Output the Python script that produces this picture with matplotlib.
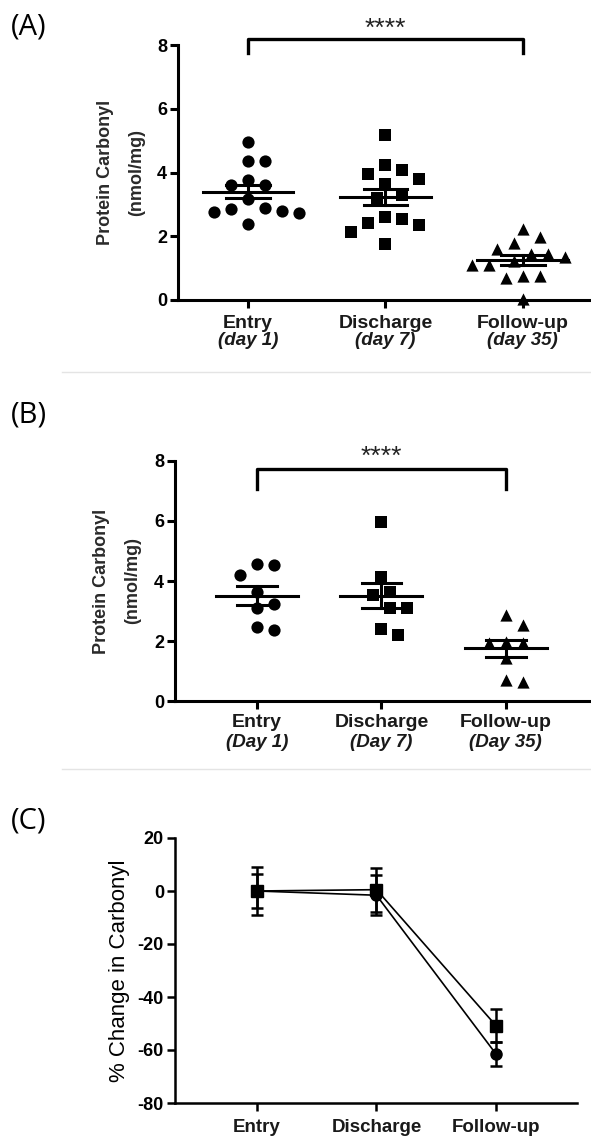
import numpy as np
import matplotlib.pyplot as plt
from matplotlib.lines import Line2D

plt.rcParams['font.family'] = ['Liberation Sans', 'DejaVu Sans']
plt.rcParams['axes.unicode_minus'] = False

# ==============================
# data
# ==============================
groups = ['Entry', 'Discharge', 'Follow-up']
days_a = ['(day 1)', '(day 7)', '(day 35)']
days_b = ['(Day 1)', '(Day 7)', '(Day 35)']

# panel A - protein carbonyl (nmol/mg)
a_entry = [4.95, 4.35, 4.35, 3.77, 3.62, 3.62, 3.18, 2.84, 2.88, 2.39, 2.72, 2.75, 2.8]
a_discharge = [5.18, 4.25, 3.8, 3.94, 4.09, 3.65, 3.28, 3.2, 2.6, 2.36, 2.55, 2.43, 2.14, 1.75]
a_followup = [1.98, 2.22, 1.79, 1.43, 1.09, 1.61, 1.22, 1.35, 0.75, 0.68, 0.75, 0.02, 1.45, 1.11]

# panel B - protein carbonyl (nmol/mg)
b_entry = [4.53, 4.56, 4.2, 3.64, 3.09, 3.23, 2.37, 2.46]
b_discharge = [5.97, 4.14, 3.53, 3.64, 3.09, 3.09, 2.2, 2.39]
b_followup = [2.87, 2.53, 1.92, 1.98, 1.95, 1.42, 0.64, 0.7]

# panel C - % change in carbonyl (mean, sem)
c_circ_mean = [0.0, -1.6, -61.5]
c_circ_sem = [6.4, 7.6, 4.7]
c_sq_mean = [0.0, 0.5, -50.8]
c_sq_sem = [8.9, 8.3, 6.3]

W, H = 591, 1136
fig = plt.figure(figsize=(W / 100, H / 100), dpi=100)


def px_axes(left, top, right, bottom):
    return fig.add_axes([left / W, 1 - bottom / H, (right - left) / W, (bottom - top) / H])


def style_axes(ax, lw=2.2):
    for s in ['top', 'right']:
        ax.spines[s].set_visible(False)
    for s in ['left', 'bottom']:
        ax.spines[s].set_linewidth(lw)
    ax.tick_params(direction='out', length=6, width=lw, pad=2, labelsize=13)
    for lab in ax.get_yticklabels():
        lab.set_fontweight('bold')
    ax.set_xticks([0, 1, 2])
    ax.set_xticklabels([])


def swarm(ax, vals, d_px=16.0, step_px=8.5):
    # greedy beeswarm in pixel space
    p0 = ax.transData.transform((0, 0))
    p1 = ax.transData.transform((1, 1))
    sx, sy = p1 - p0
    vals = np.asarray(vals)
    offs = np.zeros(len(vals))
    placed = []
    ks = [0]
    for k in range(1, 12):
        ks += [k, -k]
    for i in np.argsort(-vals):
        y = vals[i] * sy
        for k in ks:
            x = k * step_px
            if all((x - px) ** 2 + (y - py) ** 2 >= d_px ** 2 for px, py in placed):
                break
        placed.append((x, y))
        offs[i] = x / sx
    return offs


def dot_panel(ax, data, markers, labels2, lab_off, bracket, stars_y):
    for i, (vals, m) in enumerate(zip(data, markers)):
        offs = swarm(ax, vals)
        ax.scatter(i + offs, vals, marker=m, s=8.8 ** 2, color='black',
                   linewidths=0, clip_on=False, zorder=3)
        v = np.asarray(vals)
        mean = v.mean()
        sem = v.std(ddof=1) / np.sqrt(len(v))
        ax.plot([i - 0.33, i + 0.33], [mean, mean], color='black', lw=2.2, zorder=4)
        ax.plot([i - 0.16, i + 0.16], [mean + sem] * 2, color='black', lw=2.2, zorder=4)
        ax.plot([i - 0.16, i + 0.16], [mean - sem] * 2, color='black', lw=2.2, zorder=4)
        ax.plot([i, i], [mean - sem, mean + sem], color='black', lw=2.2, zorder=4)
    for i in range(3):
        ax.annotate(groups[i], xy=(i, 0), xycoords=('data', 'axes fraction'),
                    xytext=(0, -lab_off[0]), textcoords='offset points',
                    ha='center', va='top', fontsize=14, fontweight='bold',
                    color='#1a1a1a')
        ax.annotate(labels2[i], xy=(i, 0), xycoords=('data', 'axes fraction'),
                    xytext=(0, -lab_off[1]), textcoords='offset points',
                    ha='center', va='top', fontsize=13.5, fontweight='bold',
                    style='italic', color='#1a1a1a')
    lo, hi = bracket
    ax.plot([0, 0, 2, 2], [lo, hi, hi, lo], color='black', lw=2.4, clip_on=False)
    ax.text(1, stars_y, '****', ha='center', va='baseline', fontsize=19,
            color='#222222')


# ==============================
# (A)
# ==============================
ax_a = px_axes(178, 45, 592, 300)
ax_a.set_xlim(-0.511, 2.504)
ax_a.set_ylim(0, 8)
ax_a.set_yticks([0, 2, 4, 6, 8])
style_axes(ax_a)
dot_panel(ax_a, [a_entry, a_discharge, a_followup], ['o', 's', '^'], days_a,
          (10.5, 23.0), (7.75, 8.19), 8.3)

# ==============================
# (B)
# ==============================
ax_b = px_axes(175, 461, 592, 701)
ax_b.set_xlim(-0.661, 2.694)
ax_b.set_ylim(0, 8)
ax_b.set_yticks([0, 2, 4, 6, 8])
style_axes(ax_b)
dot_panel(ax_b, [b_entry, b_discharge, b_followup], ['o', 's', '^'], days_b,
          (9.2, 24.0), (7.08, 7.74), 7.92)

# ==============================
# (C)
# ==============================
ax_c = px_axes(175, 838, 577, 1103)
ax_c.set_xlim(-0.686, 2.678)
ax_c.set_ylim(-80, 20)
ax_c.set_yticks([20, 0, -20, -40, -60, -80])
style_axes(ax_c, lw=1.8)
x = np.arange(3)
ax_c.errorbar(x, c_circ_mean, yerr=c_circ_sem, marker='o', ms=8, color='black',
              lw=1.2, elinewidth=1.8, capsize=4, capthick=1.8, zorder=3)
ax_c.errorbar(x, c_sq_mean, yerr=c_sq_sem, marker='s', ms=8, color='black',
              lw=1.2, elinewidth=1.8, capsize=4, capthick=1.8, zorder=3)
for i in range(3):
    ax_c.annotate(groups[i], xy=(i, 0), xycoords=('data', 'axes fraction'),
                  xytext=(0, -11.5), textcoords='offset points',
                  ha='center', va='top', fontsize=13.5, fontweight='bold',
                  color='#1a1a1a')

# y labels
for xa, xb, yc in [(105.5, 136.5, 172), (101, 133, 581)]:
    fig.text(xa / W, 1 - yc / H, 'Protein Carbonyl', rotation=90, ha='center',
             va='center', fontsize=13, fontweight='bold', color='#2a2a2a')
    fig.text(xb / W, 1 - yc / H, '(nmol/mg)', rotation=90, ha='center',
             va='center', fontsize=13, fontweight='bold', color='#2a2a2a')
fig.text(120 / W, 1 - 971 / H, '% Change in Carbonyl', rotation=90, ha='center',
         va='center', fontsize=16)

# panel letters
for lab, yc in [('(A)', 27), ('(B)', 415), ('(C)', 821)]:
    fig.text(11 / W, 1 - yc / H, lab, ha='left', va='center', fontsize=21,
             family=['Open Sans', 'DejaVu Sans'])

# light separators between panels
for yy in [372, 769]:
    fig.add_artist(Line2D([62 / W, 1], [1 - yy / H] * 2, color='#e4e4e4', lw=1))

fig.savefig('out.png', dpi=100)
